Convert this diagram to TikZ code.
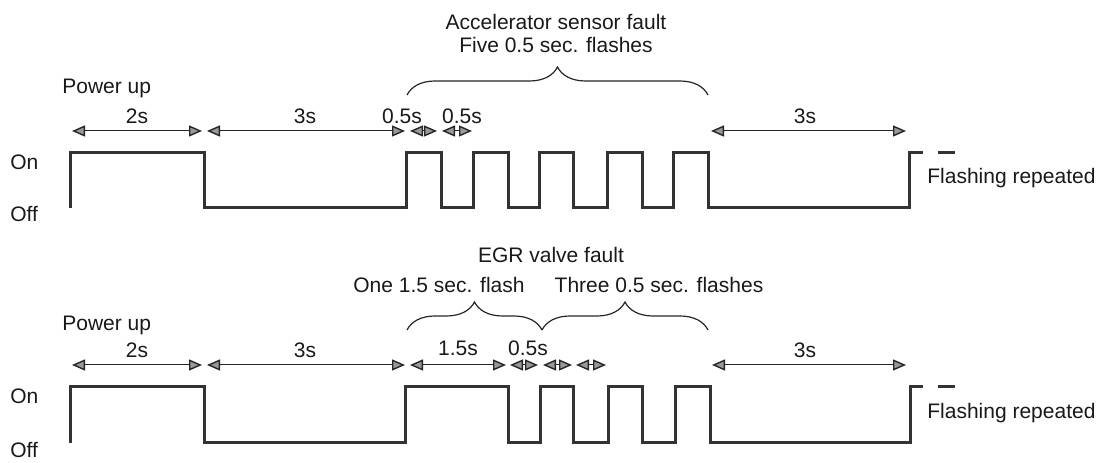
\documentclass[tikz,border=0pt]{standalone}
\usepackage{fontspec}
\setmainfont{Liberation Sans}
\usetikzlibrary{arrows.meta,decorations.pathreplacing}
\begin{document}
\begin{tikzpicture}[x=0.5bp,y=-0.5bp,
  lbl/.style={font=\fontsize{10.5bp}{12bp}\selectfont, inner sep=0pt, text=black!90},
  wave/.style={line width=1.5bp, draw=black!80, line join=miter},
  dimarrow/.style={line width=0.5bp, draw=black!85,
    {Triangle[length=6.5bp,width=5.5bp,fill=black!40,line width=0.7bp]}-{Triangle[length=6.5bp,width=5.5bp,fill=black!40,line width=0.7bp]}},
  brc/.style={decorate, decoration={brace, amplitude=14bp}, line width=0.6bp, draw=black!85}]
\useasboundingbox (0,0) rectangle (1100,463);

% ---------------- top diagram ----------------
\node[lbl] (acc) at (556,22) {Accelerator sensor fault};
\node[lbl] (five) at (556,45) {Five 0.5 sec. flashes};
\coordinate (tbl) at (407,95);
\coordinate (tbr) at (708,95);
\draw[brc] (tbl) -- (tbr);

\node[lbl, anchor=west] (pu1) at (62,88) {Power up};

\coordinate (ta1) at (72,131);  \coordinate (ta2) at (202,131);
\coordinate (tb1) at (207,131); \coordinate (tb2) at (405,131);
\coordinate (tc1) at (410,131); \coordinate (tc2) at (437,131);
\coordinate (td1) at (442,131); \coordinate (td2) at (472,131);
\coordinate (te1) at (711,131); \coordinate (te2) at (906,131);
\draw[dimarrow] (ta1) -- (ta2);
\draw[dimarrow] (tb1) -- (tb2);
\draw[dimarrow] (tc1) -- (tc2);
\draw[dimarrow] (td1) -- (td2);
\draw[dimarrow] (te1) -- (te2);
\node[lbl] (tl2s) at (137,116) {2s};
\node[lbl] (tl3s) at (305,116) {3s};
\node[lbl] (tl05a) at (402,116) {0.5s};
\node[lbl] (tl05b) at (462,116) {0.5s};
\node[lbl] (tl3sb) at (805,116) {3s};

\node[lbl, anchor=west] (on1) at (10,162) {On};
\node[lbl, anchor=west] (off1) at (10,214) {Off};

\draw[wave] (70,208) -- (70,153) -- (204,153) -- (204,208) -- (406,208) -- (406,153)
  -- (441,153) -- (441,208) -- (473,208) -- (473,153) -- (508,153) -- (508,208)
  -- (539,208) -- (539,153) -- (573,153) -- (573,208) -- (607,208) -- (607,153)
  -- (642,153) -- (642,208) -- (673,208) -- (673,153) -- (708,153) -- (708,208)
  -- (909,208) -- (909,153) -- (923,153);
\draw[wave] (938,153) -- (955,153);
\node[lbl, anchor=west] (fr1) at (927,178) {Flashing repeated};

% ---------------- bottom diagram ----------------
\node[lbl] (egr) at (551,255) {EGR valve fault};
\node[lbl] (one) at (439,285) {One 1.5 sec. flash};
\node[lbl] (three) at (659,285) {Three 0.5 sec. flashes};
\coordinate (bb1) at (407,330);
\coordinate (bb2) at (542,330);
\coordinate (bb3) at (708,330);
\draw[brc] (bb1) -- (bb2);
\draw[brc] (bb2) -- (bb3);

\node[lbl, anchor=west] (pu2) at (62,325) {Power up};

\coordinate (ba1) at (72,365);  \coordinate (ba2) at (202,365);
\coordinate (bc1) at (207,365); \coordinate (bc2) at (405,365);
\coordinate (bd1) at (410,365); \coordinate (bd2) at (506,365);
\coordinate (be1) at (510,365); \coordinate (be2) at (538,365);
\coordinate (bf1) at (543,365); \coordinate (bf2) at (572,365);
\coordinate (bg1) at (576,365); \coordinate (bg2) at (606,365);
\coordinate (bh1) at (712,365); \coordinate (bh2) at (906,365);
\draw[dimarrow] (ba1) -- (ba2);
\draw[dimarrow] (bc1) -- (bc2);
\draw[dimarrow] (bd1) -- (bd2);
\draw[dimarrow] (be1) -- (be2);
\draw[dimarrow] (bf1) -- (bf2);
\draw[dimarrow] (bg1) -- (bg2);
\draw[dimarrow] (bh1) -- (bh2);
\node[lbl] (bl2s) at (137,350) {2s};
\node[lbl] (bl3s) at (305,350) {3s};
\node[lbl] (bl15) at (458,348) {1.5s};
\node[lbl] (bl05) at (528,348) {0.5s};
\node[lbl] (bl3sb) at (805,350) {3s};

\node[lbl, anchor=west] (on2) at (10,396) {On};
\node[lbl, anchor=west] (off2) at (10,450) {Off};

\draw[wave] (70,443) -- (70,387) -- (204,387) -- (204,443) -- (405,443) -- (405,387)
  -- (508,387) -- (508,443) -- (540,443) -- (540,387) -- (573,387) -- (573,443)
  -- (608,443) -- (608,387) -- (642,387) -- (642,443) -- (675,443) -- (675,387)
  -- (710,387) -- (710,443) -- (910,443) -- (910,387) -- (923,387);
\draw[wave] (938,387) -- (955,387);
\node[lbl, anchor=west] (fr2) at (927,413) {Flashing repeated};
\end{tikzpicture}
\end{document}
